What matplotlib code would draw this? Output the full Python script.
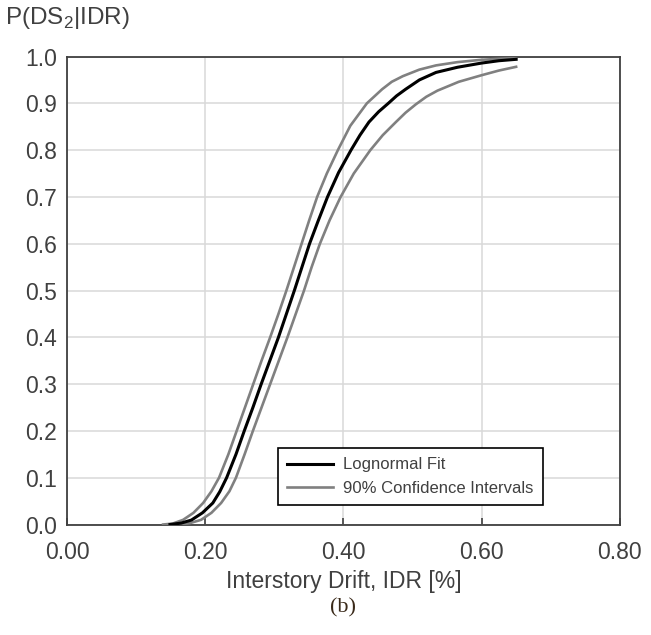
import matplotlib
matplotlib.use("Agg")
import matplotlib.pyplot as plt
from matplotlib.ticker import FormatStrFormatter

# values (IDR in %, probability)
fit_x = [0.149, 0.165, 0.180, 0.196, 0.211, 0.221, 0.231, 0.2445, 0.2565, 0.269,
         0.281, 0.2935, 0.306, 0.3175, 0.329, 0.340, 0.351, 0.363, 0.377, 0.393,
         0.411, 0.424, 0.437, 0.451, 0.465, 0.477, 0.490, 0.510, 0.534, 0.565,
         0.600, 0.625, 0.650]
fit_y = [0.000, 0.003, 0.0095, 0.025, 0.046, 0.070, 0.100, 0.150, 0.200, 0.250,
         0.300, 0.350, 0.400, 0.450, 0.500, 0.550, 0.600, 0.647, 0.700, 0.752,
         0.800, 0.832, 0.860, 0.882, 0.900, 0.916, 0.930, 0.950, 0.966, 0.977,
         0.986, 0.991, 0.994]

ci_hi_x = [0.139, 0.153, 0.168, 0.183, 0.197, 0.209, 0.220, 0.2335, 0.2455, 0.2575,
           0.2695, 0.2815, 0.294, 0.306, 0.3175, 0.3285, 0.3395, 0.3505, 0.362, 0.376,
           0.392, 0.410, 0.434, 0.456, 0.470, 0.486, 0.510, 0.534, 0.565, 0.600, 0.650]
ci_hi_y = [0.000, 0.002, 0.010, 0.025, 0.046, 0.071, 0.100, 0.150, 0.200, 0.250,
           0.300, 0.350, 0.400, 0.450, 0.500, 0.550, 0.600, 0.650, 0.700, 0.750,
           0.800, 0.852, 0.900, 0.930, 0.946, 0.958, 0.972, 0.981, 0.988, 0.993, 0.997]

ci_lo_x = [0.163, 0.178, 0.194, 0.209, 0.223, 0.235, 0.2445, 0.257, 0.269, 0.2815,
           0.294, 0.3065, 0.319, 0.331, 0.343, 0.354, 0.366, 0.380, 0.396, 0.415,
           0.439, 0.457, 0.476, 0.490, 0.505, 0.520, 0.536, 0.567, 0.600, 0.625, 0.650]
ci_lo_y = [0.000, 0.003, 0.010, 0.025, 0.046, 0.071, 0.100, 0.150, 0.200, 0.250,
           0.300, 0.350, 0.400, 0.450, 0.500, 0.550, 0.600, 0.650, 0.700, 0.750,
           0.800, 0.832, 0.860, 0.880, 0.898, 0.914, 0.927, 0.946, 0.960, 0.970, 0.978]

x_ticks = [0.0, 0.2, 0.4, 0.6, 0.8]
y_ticks = [0.0, 0.1, 0.2, 0.3, 0.4, 0.5, 0.6, 0.7, 0.8, 0.9, 1.0]

TXT = "#404040"
plt.rcParams["font.family"] = ["Liberation Sans", "DejaVu Sans"]
plt.rcParams["mathtext.fontset"] = "custom"
plt.rcParams["mathtext.rm"] = "Liberation Sans"

fig = plt.figure(figsize=(6.51, 6.35), dpi=100)
ax = fig.add_axes([0.103, 0.174, 0.849, 0.737])

ax.plot(ci_hi_x, ci_hi_y, color="#808080", lw=1.9, label="90% Confidence Intervals", zorder=3)
ax.plot(ci_lo_x, ci_lo_y, color="#808080", lw=1.9, zorder=3)
ax.plot(fit_x, fit_y, color="black", lw=2.2, label="Lognormal Fit", zorder=4)

ax.set_xlim(0, 0.8)
ax.set_ylim(0, 1.0)
ax.set_xticks(x_ticks)
ax.set_yticks(y_ticks)
ax.xaxis.set_major_formatter(FormatStrFormatter("%.2f"))
ax.yaxis.set_major_formatter(FormatStrFormatter("%.1f"))
ax.grid(True, color="#d9d9d9", lw=1.1, zorder=0)
ax.set_axisbelow(True)
ax.tick_params(axis="x", direction="in", length=5, width=1.2, color="#404040",
               labelsize=16.5, labelcolor=TXT, pad=12)
ax.tick_params(axis="y", length=0, labelsize=16.5, labelcolor=TXT, pad=7)
for s in ax.spines.values():
    s.set_color("#404040")
    s.set_linewidth(1.3)

ax.set_xlabel("Interstory Drift, IDR [%]", fontsize=16.5, color=TXT, labelpad=4)
fig.text(0.008, 0.972, r"P(DS$_{\mathregular{2}}$|IDR)", fontsize=17.5, color=TXT,
         ha="left", va="center")
fig.text(0.527, 0.043, "(b)", fontsize=16, color="#3a2a1a", family="Liberation Serif",
         ha="center", va="center")

h, l = ax.get_legend_handles_labels()
leg = ax.legend(h[::-1], l[::-1], loc="lower left", bbox_to_anchor=(0.381, 0.042),
                borderaxespad=0, fontsize=12, frameon=True, fancybox=False,
                edgecolor="black", framealpha=1, handlelength=2.8,
                handletextpad=0.6, labelspacing=0.5, borderpad=0.55)
leg.get_frame().set_linewidth(1.2)
for t in leg.get_texts():
    t.set_color(TXT)

fig.savefig("out.png", dpi=100)
